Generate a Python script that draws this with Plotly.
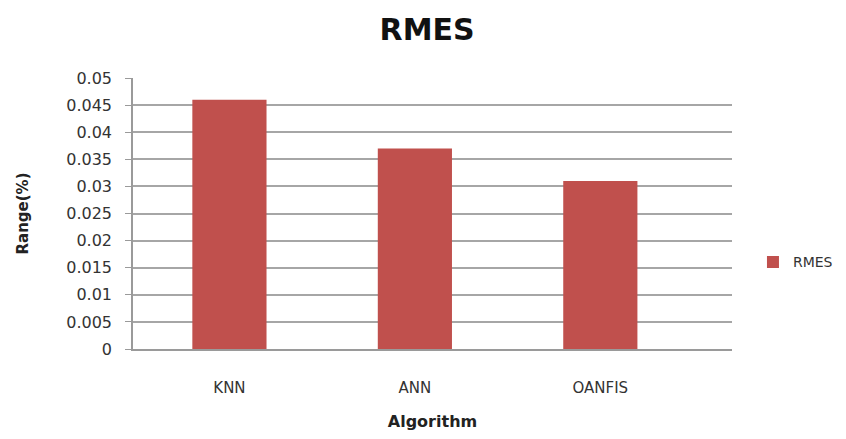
import plotly.graph_objects as go

categories = ["KNN", "ANN", "OANFIS"]
rmes_values = [0.046, 0.037, 0.031]
series_name = "RMES"
y_ticks = [0, 0.005, 0.01, 0.015, 0.02, 0.025, 0.03, 0.035, 0.04, 0.045, 0.05]
y_tick_labels = ["0", "0.005", "0.01", "0.015", "0.02", "0.025", "0.03", "0.035", "0.04", "0.045", "0.05"]

font_family = "DejaVu Sans, Open Sans, sans-serif"

fig = go.Figure()
fig.add_trace(go.Bar(
    x=categories, y=rmes_values, name=series_name,
    marker=dict(color="#C0504D", line=dict(width=0)),
    width=0.4, showlegend=True,
))

fig.update_layout(
    width=830, height=423,
    margin=dict(l=125, r=106, t=70, b=82, autoexpand=False),
    paper_bgcolor="white", plot_bgcolor="white",
    title=dict(text="<b>RMES</b>", x=0.505, xanchor="center", y=0.95, yanchor="middle",
               font=dict(family=font_family, size=30, color="#111111")),
    font=dict(family=font_family, color="#333333"),
    showlegend=True,
    legend=dict(x=1.035, xanchor="left", y=0.32, yanchor="middle",
                font=dict(size=14, color="#333333"), itemwidth=30,
                bgcolor="rgba(0,0,0,0)"),
    bargap=0.6,
)

fig.update_xaxes(
    type="category", range=[-0.52, 2.71],
    showline=True, linecolor="#9a9a9a", linewidth=1.5,
    showgrid=False, ticks="", ticklabelstandoff=24,
    tickfont=dict(size=15, color="#333333"),
    title=dict(text="<b>Algorithm</b>", font=dict(size=16, color="#222222"), standoff=22),
)
fig.update_yaxes(
    range=[0, 0.05], tickvals=y_ticks, ticktext=y_tick_labels,
    showline=True, linecolor="#9a9a9a", linewidth=1.5,
    showgrid=True, gridcolor="#a6a6a6", gridwidth=1.5,
    ticks="outside", ticklen=6, tickcolor="#9a9a9a", ticklabelstandoff=10,
    tickfont=dict(size=16, color="#333333"),
    title=dict(text="<b>Range(%)</b>", font=dict(size=15, color="#222222"), standoff=34),
    zeroline=False,
)

fig.write_html("out.html")
